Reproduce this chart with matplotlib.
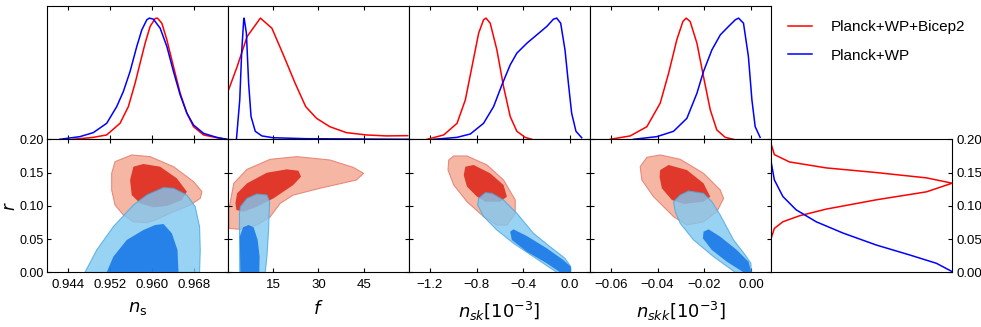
import matplotlib.pyplot as plt
from matplotlib.lines import Line2D

plt.rcParams['font.family'] = ['Liberation Sans', 'DejaVu Sans']
plt.rcParams['mathtext.fontset'] = 'dejavusans'

# ---- 1D marginals (normalised to peak = 1) ----
ns_x_red = [0.94495, 0.94877, 0.95133, 0.95387, 0.95546, 0.95674, 0.95769, 0.95865, 0.95960, 0.96056,
            0.96099, 0.96183, 0.96279, 0.96405, 0.96533, 0.96661, 0.96787, 0.96978, 0.97230, 0.97420]
ns_p_red = [0.0, 0.016, 0.036, 0.132, 0.270, 0.463, 0.628, 0.793, 0.931, 0.997,
            1.0, 0.958, 0.821, 0.600, 0.380, 0.215, 0.104, 0.036, 0.013, 0.0]
ns_x_blue = [0.94242, 0.94623, 0.94877, 0.95133, 0.95324, 0.95450, 0.95578, 0.95706, 0.95802, 0.95897, 0.95947,
             0.96023, 0.96151, 0.96279, 0.96405, 0.96533, 0.96661, 0.96787, 0.96978, 0.97230, 0.97420]
ns_p_blue = [0.0, 0.022, 0.055, 0.132, 0.270, 0.394, 0.559, 0.766, 0.903, 0.986, 1.0,
             0.991, 0.917, 0.766, 0.559, 0.366, 0.215, 0.118, 0.049, 0.016, 0.0]

f_x_red = [0.33, 3.1, 6.4, 10.8, 14.6, 18.4, 22.3, 25.8, 29.4, 33.8, 39.3, 45.9, 52.5, 59.6]
f_p_red = [0.413, 0.600, 0.848, 1.0, 0.917, 0.697, 0.463, 0.270, 0.173, 0.104, 0.055, 0.036, 0.028, 0.030]
f_x_blue = [2.86, 3.96, 4.6, 5.27, 5.4, 6.16, 6.9, 7.7, 9.1, 11.3, 15.0, 26.0, 60.0]
f_p_blue = [0.0, 0.325, 0.72, 0.986, 1.0, 0.876, 0.463, 0.188, 0.066, 0.028, 0.013, 0.005, 0.0]

nsk_x_red = [-1.223, -1.081, -0.967, -0.896, -0.839, -0.782, -0.740, -0.719, -0.683, -0.626,
             -0.569, -0.512, -0.455, -0.384, -0.327]
nsk_p_red = [0.0, 0.036, 0.132, 0.325, 0.600, 0.876, 0.986, 1.0, 0.958, 0.738,
             0.435, 0.188, 0.066, 0.016, 0.0]
nsk_x_blue = [-1.166, -0.967, -0.853, -0.740, -0.654, -0.583, -0.512, -0.455, -0.369, -0.284,
              -0.199, -0.142, -0.114, -0.080, -0.043, -0.014, 0.014, 0.051, 0.100]
nsk_p_blue = [0.0, 0.016, 0.044, 0.132, 0.270, 0.449, 0.614, 0.711, 0.793, 0.862,
              0.931, 0.991, 1.0, 0.958, 0.738, 0.463, 0.215, 0.066, 0.013]

nskk_x_red = [-0.0603, -0.0517, -0.0446, -0.0389, -0.0353, -0.0318, -0.0292, -0.0278, -0.0261,
              -0.0232, -0.0204, -0.0175, -0.0147, -0.0111, -0.0076]
nskk_p_red = [0.0, 0.028, 0.104, 0.298, 0.545, 0.821, 0.972, 1.0, 0.972,
              0.793, 0.518, 0.243, 0.077, 0.016, 0.0]
nskk_x_blue = [-0.0503, -0.0403, -0.0332, -0.0275, -0.0232, -0.0204, -0.0168, -0.0132, -0.0097,
               -0.0068, -0.0054, -0.0033, -0.0012, 0.0003, 0.0017, 0.0038]
nskk_p_blue = [0.0, 0.022, 0.066, 0.173, 0.380, 0.559, 0.738, 0.862, 0.931,
               0.986, 1.0, 0.958, 0.683, 0.325, 0.104, 0.016]

r_y_red = [0.193, 0.177, 0.166, 0.157, 0.150, 0.142, 0.134, 0.121, 0.109, 0.095, 0.085, 0.076, 0.066, 0.051]
r_p_red = [0.0, 0.018, 0.101, 0.304, 0.581, 0.858, 1.0, 0.858, 0.581, 0.304, 0.157, 0.065, 0.018, 0.0]
r_y_blue = [0.166, 0.139, 0.114, 0.094, 0.076, 0.059, 0.041, 0.026, 0.0135, 0.001]
r_p_blue = [0.0, 0.018, 0.065, 0.138, 0.249, 0.397, 0.581, 0.766, 0.913, 1.0]

# ---- 2D contour outlines (68% / 95%), x values then r values ----
ns_red95 = ([0.95292, 0.95610, 0.95960, 0.96406, 0.96788, 0.96947, 0.96915, 0.96724, 0.96406, 0.96087,
             0.95896, 0.95642, 0.95451, 0.95292, 0.95228, 0.95228],
            [0.1664, 0.1764, 0.1739, 0.1588, 0.1363, 0.1213, 0.1112, 0.1012, 0.0912, 0.0796,
             0.0746, 0.0761, 0.0862, 0.1012, 0.1238, 0.1488])
ns_red68 = ([0.95642, 0.95833, 0.96151, 0.96469, 0.96660, 0.96565, 0.96278, 0.96024, 0.95769, 0.95610, 0.95578],
            [0.1588, 0.1629, 0.1588, 0.1413, 0.1213, 0.1087, 0.0997, 0.0977, 0.1037, 0.1162, 0.1388])
ns_blue95 = ([0.94719, 0.94942, 0.95260, 0.95642, 0.95896, 0.96215, 0.96406, 0.96660, 0.96819, 0.96902,
              0.96915, 0.96902],
             [0.0, 0.0335, 0.0686, 0.1012, 0.1162, 0.1273, 0.1263, 0.1162, 0.0987, 0.0686, 0.0335, 0.0])
ns_blue68 = ([0.95133, 0.95260, 0.95515, 0.95833, 0.96056, 0.96215, 0.96374, 0.96482, 0.96501],
             [0.0, 0.0235, 0.0486, 0.0636, 0.0711, 0.0726, 0.0586, 0.0335, 0.0])

f_red95 = ([0.34, 1.99, 6.38, 14.06, 22.83, 33.8, 41.5, 45.0, 42.6, 30.5, 21.7, 17.35, 14.06, 9.67, 4.18, 0.34],
           [0.0937, 0.1338, 0.1548, 0.1699, 0.1739, 0.1689, 0.1579, 0.1488, 0.1388, 0.1263, 0.1162, 0.1037,
            0.0837, 0.0711, 0.0646, 0.0661])
f_red68 = ([2.53, 3.08, 6.38, 12.96, 19.54, 23.38, 24.26, 21.7, 15.15, 9.67, 5.28, 2.86],
           [0.1037, 0.1187, 0.1338, 0.1498, 0.1548, 0.1528, 0.1438, 0.1313, 0.1112, 0.0987, 0.0912, 0.0937])
f_blue95 = ([3.96, 3.85, 4.18, 6.38, 9.67, 12.96, 13.84, 13.51, 12.96, 12.41],
            [0.0, 0.0887, 0.0987, 0.1112, 0.1177, 0.1162, 0.1062, 0.0636, 0.0235, 0.0])
f_blue68 = ([4.18, 3.96, 5.06, 6.92, 8.57, 9.89, 10.54, 10.43],
            [0.0, 0.0536, 0.0676, 0.0711, 0.0676, 0.0486, 0.0235, 0.0])

nsk_red95 = ([-1.038, -0.995, -0.882, -0.711, -0.569, -0.469, -0.469, -0.540, -0.626, -0.739, -0.882, -0.995, -1.044],
             [0.1689, 0.1749, 0.1749, 0.1614, 0.1388, 0.1087, 0.0887, 0.0711, 0.0711, 0.0837, 0.1062, 0.1313, 0.1538])
nsk_red68 = ([-0.896, -0.825, -0.683, -0.569, -0.540, -0.597, -0.725, -0.796, -0.882, -0.910],
             [0.1588, 0.1614, 0.1488, 0.1313, 0.1137, 0.1062, 0.1062, 0.1137, 0.1288, 0.1463])
nsk_blue95 = ([-0.782, -0.725, -0.668, -0.569, -0.455, -0.313, -0.171, -0.043, 0.006, 0.006,
               -0.114, -0.313, -0.484, -0.626, -0.739, -0.791],
              [0.1112, 0.1197, 0.1187, 0.1087, 0.0887, 0.0586, 0.0385, 0.0210, 0.0085, 0.0,
               0.0, 0.0235, 0.0436, 0.0636, 0.0837, 0.1012])
nsk_blue68 = ([-0.512, -0.484, -0.370, -0.199, -0.057, 0.006, 0.006, -0.085, -0.199, -0.370, -0.498],
              [0.0611, 0.0646, 0.0546, 0.0361, 0.0185, 0.0085, 0.0, 0.0, 0.0135, 0.0310, 0.0486])

nskk_red95 = ([-0.04744, -0.04459, -0.03889, -0.03034, -0.02037, -0.01325, -0.01182, -0.01467, -0.02037,
               -0.02749, -0.03319, -0.04174, -0.04672],
              [0.1588, 0.1729, 0.1764, 0.1699, 0.1488, 0.1238, 0.1112, 0.0912, 0.0761,
               0.0711, 0.0837, 0.1137, 0.1388])
nskk_red68 = ([-0.03889, -0.03533, -0.02749, -0.02037, -0.01752, -0.02037, -0.02892, -0.03390, -0.03818, -0.03917],
              [0.1538, 0.1614, 0.1538, 0.1338, 0.1137, 0.1062, 0.1027, 0.1087, 0.1263, 0.1438])
nskk_blue95 = ([-0.03319, -0.03034, -0.02678, -0.02037, -0.01681, -0.01325, -0.00755, -0.00256, -0.00014, 0.0,
                -0.00684, -0.01610, -0.02464, -0.03034, -0.03248],
               [0.1062, 0.1162, 0.1222, 0.1187, 0.1062, 0.0862, 0.0486, 0.0260, 0.0135, 0.0,
                0.0, 0.0235, 0.0486, 0.0736, 0.0912])
nskk_blue68 = ([-0.02037, -0.01823, -0.01325, -0.00613, -0.00114, 0.0, -0.00328, -0.01040, -0.01681, -0.02066],
               [0.0611, 0.0646, 0.0536, 0.0335, 0.0159, 0.0, 0.0, 0.0159, 0.0335, 0.0511])

# ---- axes settings ----
xlims = [(0.9399, 0.9744), (0, 60), (-1.379, 0.171), (-0.0689, 0.0085)]
xticks = [[0.944, 0.952, 0.960, 0.968], [15, 30, 45], [-1.2, -0.8, -0.4, 0.0], [-0.06, -0.04, -0.02, 0.0]]
xticklabels = [['0.944', '0.952', '0.960', '0.968'], ['15', '30', '45'],
               ['\u22121.2', '\u22120.8', '\u22120.4', '0.0'], ['\u22120.06', '\u22120.04', '\u22120.02', '0.00']]
xlabels = [r'$n_{\rm s}$', r'$f$', r'$n_{sk}[10^{-3}]$', r'$n_{skk}[10^{-3}]$']
rticks = [0.0, 0.05, 0.10, 0.15, 0.20]
rticklabels = ['0.00', '0.05', '0.10', '0.15', '0.20']

marg = [(ns_x_red, ns_p_red, ns_x_blue, ns_p_blue), (f_x_red, f_p_red, f_x_blue, f_p_blue),
        (nsk_x_red, nsk_p_red, nsk_x_blue, nsk_p_blue), (nskk_x_red, nskk_p_red, nskk_x_blue, nskk_p_blue)]
conts = [(ns_red95, ns_red68, ns_blue95, ns_blue68), (f_red95, f_red68, f_blue95, f_blue68),
         (nsk_red95, nsk_red68, nsk_blue95, nsk_blue68), (nskk_red95, nskk_red68, nskk_blue95, nskk_blue68)]

fig = plt.figure(figsize=(9.81, 3.27), dpi=100)
left0 = 46.7 / 981
w = 181.1 / 981
top_b, top_h = 0.574, 0.4077
bot_b, bot_h = 0.1673, 0.4067

for i in range(4):
    x0 = left0 + i * w
    # marginal on top
    ax = fig.add_axes([x0, top_b, w, top_h])
    xr, pr, xb, pb = marg[i]
    ax.plot(xr, pr, color='red', lw=1.1)
    ax.plot(xb, pb, color='blue', lw=1.1)
    ax.set_xlim(xlims[i])
    ax.set_ylim(0, 1.1)
    ax.set_xticks(xticks[i])
    ax.set_yticks([])
    ax.tick_params(axis='x', direction='in', top=True, bottom=True, labelbottom=False, length=3)

    # 2D panel
    ax2 = fig.add_axes([x0, bot_b, w, bot_h])
    r95, r68, b95, b68 = conts[i]
    ax2.fill(r95[0], r95[1], fc='#f5b7a4', ec='#e8897c', lw=0.8, zorder=1)
    ax2.fill(r68[0], r68[1], fc='#e0392b', ec='none', zorder=2)
    ax2.fill(b95[0], b95[1], fc='#80c8f0', ec='#4aa8e0', lw=0.8, alpha=0.8, zorder=3)
    ax2.fill(b68[0], b68[1], fc='#0a6ee6', ec='none', alpha=0.8, zorder=4)
    ax2.set_xlim(xlims[i])
    ax2.set_ylim(0, 0.2)
    ax2.set_xticks(xticks[i])
    ax2.set_xticklabels(xticklabels[i])
    ax2.set_yticks(rticks)
    ax2.tick_params(direction='in', top=True, right=True, length=3, labelsize=9.5)
    ax2.tick_params(axis='x', pad=5)
    ax2.tick_params(axis='y', pad=2, labelsize=9)
    ax2.set_xlabel(xlabels[i], fontsize=13, labelpad=6)
    if i == 0:
        ax2.set_yticklabels(rticklabels)
        ax2.text(-0.2, 0.5, r'$r$', fontsize=12, rotation=90, ha='center', va='center',
                 transform=ax2.transAxes)
    else:
        ax2.tick_params(labelleft=False)

# rotated r marginal
axr = fig.add_axes([left0 + 4 * w, bot_b, w, bot_h])
axr.plot(r_p_red, r_y_red, color='red', lw=1.1)
axr.plot(r_p_blue, r_y_blue, color='blue', lw=1.1)
axr.set_xlim(0, 1.0)
axr.set_ylim(0, 0.2)
axr.set_xticks([])
axr.set_yticks(rticks)
axr.set_yticklabels(rticklabels)
axr.yaxis.tick_right()
axr.tick_params(direction='in', length=3, pad=3, labelsize=9.5)

handles = [Line2D([], [], color='red', lw=1.1), Line2D([], [], color='blue', lw=1.1)]
fig.legend(handles, ['Planck+WP+Bicep2', 'Planck+WP'], loc='upper left',
           bbox_to_anchor=(788 / 981, 1 - 20 / 327), frameon=False, fontsize=11,
           handlelength=1.57, handletextpad=1.2, borderaxespad=0, borderpad=0, labelspacing=0.95)

fig.savefig('out.png', dpi=100)
